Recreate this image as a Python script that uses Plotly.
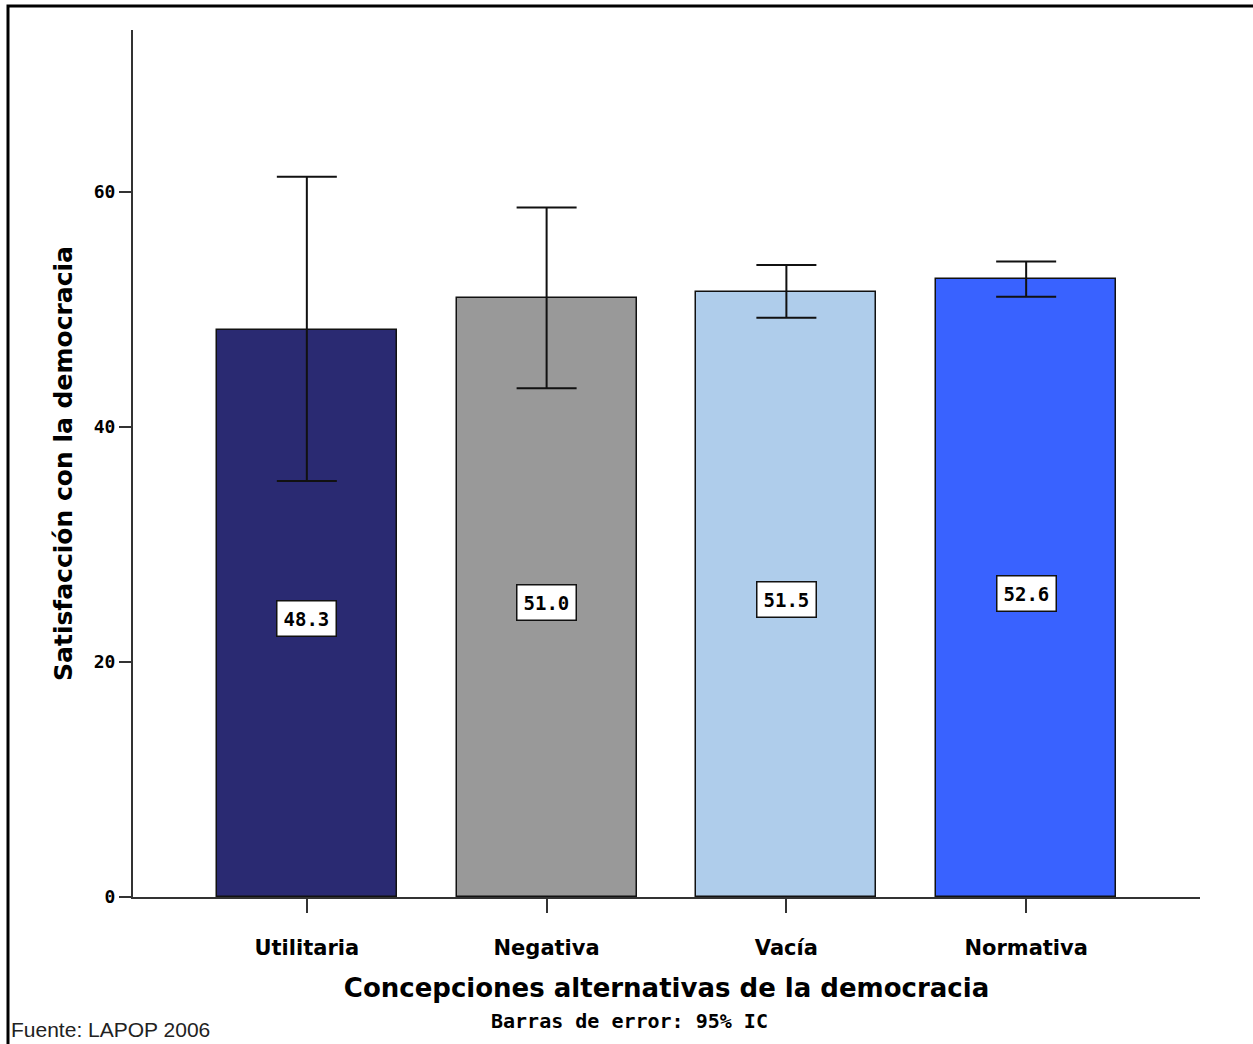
import plotly.graph_objects as go

categories = ["Utilitaria", "Negativa", "Vacía", "Normativa"]
means = [48.3, 51.0, 51.5, 52.6]
ci_low = [35.4, 43.3, 49.3, 51.1]
ci_high = [61.3, 58.7, 53.8, 54.1]
bar_colors = ["#2a2a72", "#999999", "#afcdeb", "#3962ff"]
y_ticks = [0, 20, 40, 60]

W, H = 1253, 1044
ml, mr, mt, mb = 133, 53, 30, 147
pw, ph = W - ml - mr, H - mt - mb

def px_x(x):
    return (x - ml) / pw

def px_y(y):
    return (H - mb - y) / ph

x_idx = list(range(len(categories)))

fig = go.Figure()
fig.add_trace(go.Bar(
    x=x_idx, y=means, width=0.75,
    marker=dict(color=bar_colors, line=dict(color="#111111", width=1.5)),
    error_y=dict(type="data", symmetric=False,
                 array=[h - m for h, m in zip(ci_high, means)],
                 arrayminus=[m - l for l, m in zip(ci_low, means)],
                 color="#111111", thickness=2, width=30),
    hoverinfo="skip",
))

for i, m in enumerate(means):
    fig.add_annotation(x=i, y=m / 2, yshift=-5, text=f"{m:.1f}", showarrow=False,
                       font=dict(family="DejaVu Sans Mono", size=19, color="black", weight="bold"),
                       bgcolor="white", bordercolor="#111111", borderwidth=1.5, borderpad=6)

fig.update_layout(
    width=W, height=H,
    margin=dict(l=ml, r=mr, t=mt, b=mb),
    paper_bgcolor="white", plot_bgcolor="white",
    showlegend=False,
    bargap=0,
)

fig.update_xaxes(
    range=[-0.725, 3.725], tickmode="array", tickvals=x_idx, ticktext=categories,
    showline=True, linecolor="#333333", linewidth=2, showgrid=False, zeroline=False,
    ticks="outside", ticklen=14, tickwidth=1.5, tickcolor="#333333",
    ticklabelstandoff=17,
    tickfont=dict(family="DejaVu Sans", size=21, color="black", weight="bold"),
    title=dict(text="Concepciones alternativas de la democracia", standoff=20,
               font=dict(family="DejaVu Sans", size=26, color="black", weight="bold")),
)
fig.update_yaxes(
    range=[0, 73.8], tickmode="array", tickvals=y_ticks,
    showline=True, linecolor="#333333", linewidth=2, showgrid=False, zeroline=False,
    ticks="outside", ticklen=12, tickwidth=1.5, tickcolor="#333333",
    tickfont=dict(family="DejaVu Sans Mono", size=18, color="black", weight="bold"),
    title=dict(text="Satisfacción con la democracia", standoff=14,
               font=dict(family="DejaVu Sans", size=25, color="black", weight="bold")),
)

fig.add_annotation(xref="paper", yref="paper", x=px_x(629), y=px_y(1021),
                   text="Barras de error: 95% IC", showarrow=False,
                   xanchor="center", yanchor="middle",
                   font=dict(family="DejaVu Sans Mono", size=20, color="black", weight="bold"))
fig.add_annotation(xref="paper", yref="paper", x=px_x(9), y=px_y(1029),
                   text="Fuente: LAPOP 2006", showarrow=False,
                   xanchor="left", yanchor="middle",
                   font=dict(family="Liberation Sans", size=21, color="#222222"))

fig.add_shape(type="rect", xref="paper", yref="paper",
              x0=px_x(8), x1=px_x(1270), y0=px_y(1060), y1=px_y(6),
              line=dict(color="black", width=3), fillcolor="rgba(0,0,0,0)", layer="above")

fig.write_html("out.html", config={"displayModeBar": False},
               post_script="document.body.style.margin='0';")
